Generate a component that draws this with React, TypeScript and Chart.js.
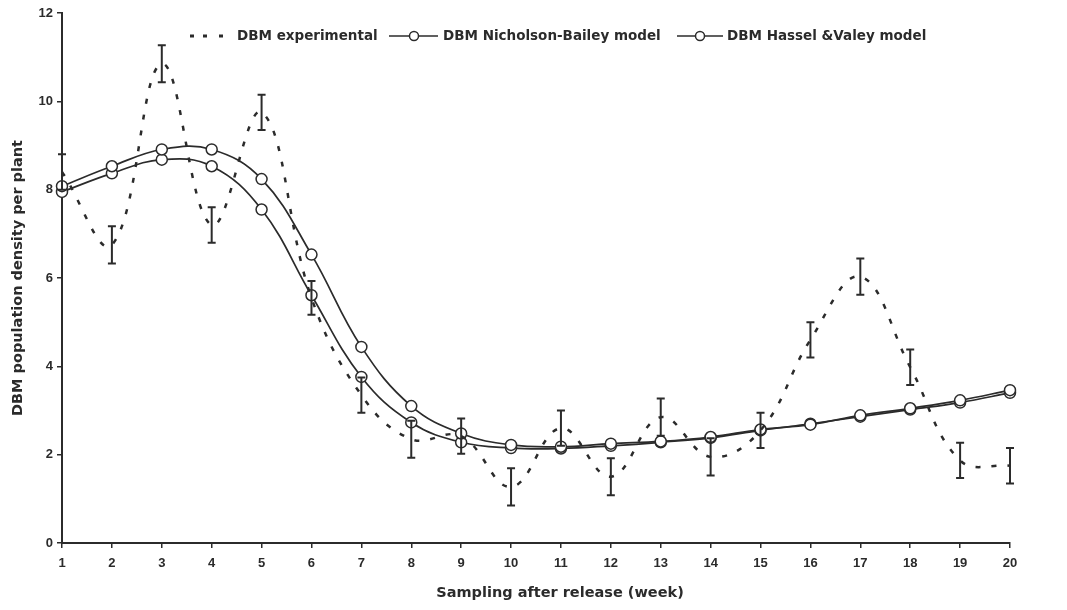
import React, { useEffect, useRef } from "react";
import { Chart, registerables } from "chart.js";

Chart.register(...registerables);

const weeks = ["1", "2", "3", "4", "5", "6", "7", "8", "9", "10", "11", "12", "13", "14", "15", "16", "17", "18", "19", "20"];
const experimental = [8.4, 6.75, 10.85, 7.2, 9.75, 5.55, 3.35, 2.35, 2.42, 1.27, 2.6, 1.5, 2.85, 1.95, 2.55, 4.6, 6.03, 3.98, 1.87, 1.75];
const experimentalErr = [0.4, 0.42, 0.42, 0.4, 0.4, 0.38, 0.4, 0.42, 0.4, 0.42, 0.4, 0.42, 0.42, 0.42, 0.4, 0.4, 0.41, 0.4, 0.4, 0.4];
const nicholsonBailey = [8.08, 8.53, 8.91, 8.91, 8.24, 6.53, 4.44, 3.1, 2.48, 2.22, 2.18, 2.25, 2.3, 2.4, 2.57, 2.68, 2.89, 3.05, 3.23, 3.46];
const hasselVarley = [7.95, 8.37, 8.68, 8.53, 7.55, 5.61, 3.76, 2.73, 2.28, 2.15, 2.14, 2.2, 2.28, 2.38, 2.55, 2.7, 2.86, 3.02, 3.18, 3.4];
const legendLabels = ["DBM experimental", "DBM Nicholson-Bailey model", "DBM Hassel &Valey model"];
const yTitle = "DBM population density per plant";
const xTitle = "Sampling after release (week)";

const INK = "#2b2b2b";
const TITLE_FONT = "bold 14.5px 'DejaVu Sans'";
const LEGEND_FONT = "bold 13.5px 'DejaVu Sans'";
const TICK_FAMILY = "'Liberation Sans Narrow', 'Liberation Sans', Arial, sans-serif";

const errorBarPlugin = {
  id: "errorBars",
  afterDatasetsDraw(chart: any) {
    const { ctx, scales } = chart;
    const x = scales.x;
    const y = scales.y;
    ctx.save();
    ctx.strokeStyle = INK;
    ctx.lineWidth = 2;
    experimental.forEach((v, i) => {
      const px = x.getPixelForValue(i);
      const top = y.getPixelForValue(v + experimentalErr[i]);
      const bot = y.getPixelForValue(v - experimentalErr[i]);
      ctx.beginPath();
      ctx.moveTo(px, top);
      ctx.lineTo(px, bot);
      ctx.moveTo(px - 4, top);
      ctx.lineTo(px + 4, top);
      ctx.moveTo(px - 4, bot);
      ctx.lineTo(px + 4, bot);
      ctx.stroke();
    });
    ctx.restore();
  },
};

const decorPlugin = {
  id: "decor",
  afterDraw(chart: any) {
    const { ctx } = chart;
    ctx.save();
    ctx.fillStyle = INK;
    ctx.strokeStyle = INK;
    // legend
    const ly = 36;
    ctx.font = LEGEND_FONT;
    ctx.textBaseline = "middle";
    ctx.textAlign = "left";
    [190, 203, 219].forEach((dx) => ctx.fillRect(dx, ly - 1.5, 4, 3));
    ctx.fillText(legendLabels[0], 237, ly);
    ctx.lineWidth = 1.5;
    ctx.beginPath();
    ctx.moveTo(389, ly);
    ctx.lineTo(438, ly);
    ctx.stroke();
    ctx.beginPath();
    ctx.arc(414, ly, 4.5, 0, Math.PI * 2);
    ctx.fillStyle = "#fff";
    ctx.fill();
    ctx.stroke();
    ctx.fillStyle = INK;
    ctx.fillText(legendLabels[1], 443, ly);
    ctx.beginPath();
    ctx.moveTo(677, ly);
    ctx.lineTo(723, ly);
    ctx.stroke();
    ctx.beginPath();
    ctx.arc(700, ly, 4.5, 0, Math.PI * 2);
    ctx.fillStyle = "#fff";
    ctx.fill();
    ctx.stroke();
    ctx.fillStyle = INK;
    ctx.fillText(legendLabels[2], 727, ly);
    // x title
    ctx.font = TITLE_FONT;
    ctx.textAlign = "center";
    ctx.fillText(xTitle, 560, 593);
    ctx.restore();
  },
};

export default function App() {
  const canvasRef = useRef<HTMLCanvasElement | null>(null);

  useEffect(() => {
    document.body.style.margin = "0";
    const canvas = canvasRef.current;
    if (!canvas) return;
    const chart = new Chart(canvas, {
      type: "line",
      data: {
        labels: weeks,
        datasets: [
          {
            label: legendLabels[0],
            data: experimental,
            borderColor: INK,
            borderWidth: 2.5,
            borderDash: [5, 11],
            pointRadius: 0,
            tension: 0.4,
            fill: false,
          },
          {
            label: legendLabels[1],
            data: nicholsonBailey,
            borderColor: INK,
            borderWidth: 1.7,
            pointRadius: 5.5,
            pointBorderWidth: 1.5,
            pointBackgroundColor: "#fff",
            pointBorderColor: INK,
            tension: 0.4,
            fill: false,
          },
          {
            label: legendLabels[2],
            data: hasselVarley,
            borderColor: INK,
            borderWidth: 1.7,
            pointRadius: 5.5,
            pointBorderWidth: 1.5,
            pointBackgroundColor: "#fff",
            pointBorderColor: INK,
            tension: 0.4,
            fill: false,
          },
        ],
      },
      options: {
        responsive: false,
        devicePixelRatio: 1,
        animation: false,
        layout: { padding: { top: 13, right: 57, bottom: 0, left: 0 } },
        plugins: {
          legend: { display: false },
          tooltip: { enabled: false },
        },
        scales: {
          x: {
            type: "category",
            offset: false,
            grid: { drawOnChartArea: false, drawTicks: true, tickLength: 5, color: INK, lineWidth: 1.5 },
            border: { display: true, color: INK, width: 2 },
            ticks: {
              color: INK,
              font: { family: TICK_FAMILY, weight: "bold", size: 13 },
              padding: 8,
              maxRotation: 0,
              autoSkip: false,
            },
            afterFit: (scale: any) => {
              scale.height = 67;
            },
          },
          y: {
            min: 0,
            max: 12,
            ticks: {
              stepSize: 2,
              color: INK,
              font: { family: TICK_FAMILY, weight: "bold", size: 13 },
              padding: 4,
            },
            grid: { drawOnChartArea: false, drawTicks: true, tickLength: 5, color: INK, lineWidth: 1.5 },
            border: { display: true, color: INK, width: 2 },
            title: {
              display: true,
              text: yTitle,
              color: INK,
              font: { family: "'DejaVu Sans'", weight: "bold", size: 14.5 },
              padding: { top: 10, bottom: 0 },
            },
            afterFit: (scale: any) => {
              scale.width = 62;
            },
          },
        },
      },
      plugins: [errorBarPlugin, decorPlugin],
    });
    return () => chart.destroy();
  }, []);

  return (
    <div style={{ width: 1067, height: 610, background: "#fff" }}>
      <canvas ref={canvasRef} width={1067} height={610} />
    </div>
  );
}
